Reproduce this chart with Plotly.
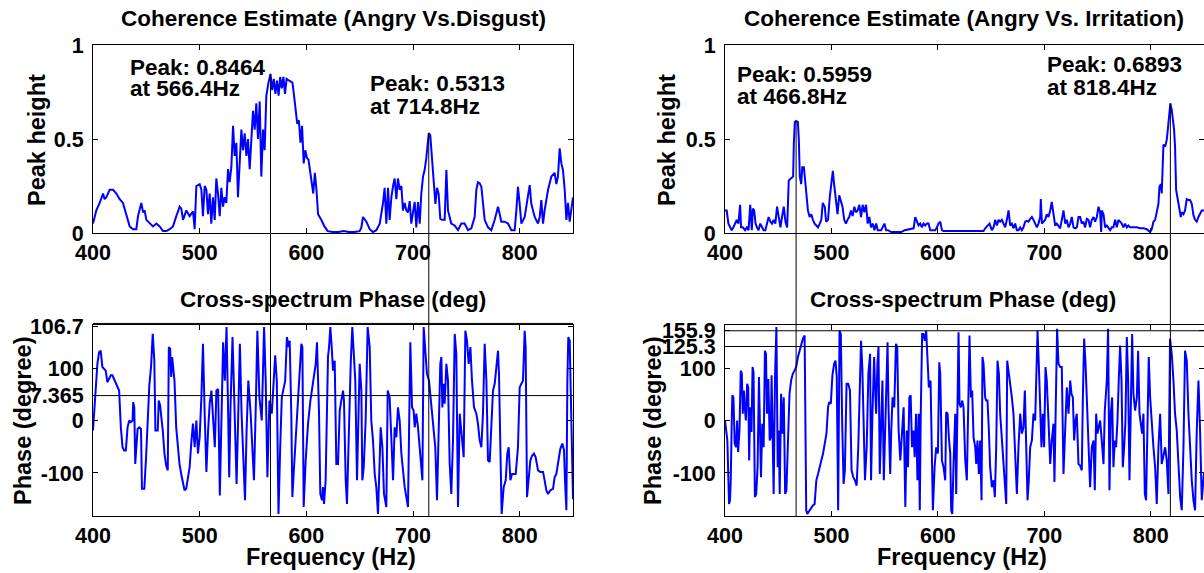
import plotly.graph_objects as go

# ---------------- data ----------------
# Top-left: coherence Angry vs Disgust
coh_dis_freq = [400, 403.1, 406.3, 409.4, 410.9, 412.5, 415.6, 418.8, 421.9, 425, 428.1, 431.3, 434.4, 437.5, 440.6,
                442.2, 445.3, 446.9, 448.4, 450, 453.1, 456.3, 459.4, 462.5, 465.6, 468.8, 471.9, 475, 478.1, 481.3,
                482.8, 484.4, 487.5, 490.6, 493.8, 495.3, 496.9, 500, 501.6, 503.1, 504.7, 506.3, 507.8, 509.4, 510.9,
                512.5, 514.1, 515.6, 517.2, 518.8, 520.3, 521.9, 523.4, 525, 526.6, 528.1, 529.7, 531.3, 532.8, 534.4,
                535.9, 537.5, 539.1, 540.6, 542.2, 543.8, 545.3, 546.9, 548.4, 550, 551.6, 553.1, 554.7, 556.3, 557.8,
                559.4, 560.9, 562.5, 564.5, 566.4, 568, 569.5, 571, 572.5, 574, 575.5, 577, 578.5, 580, 581.5, 584,
                587, 588.5, 590, 591.5, 593, 594.5, 596, 597.5, 599, 600.5, 602, 603.5, 605, 606.5, 608, 609.5, 611,
                614, 617, 620, 625, 630, 635, 640, 645, 650, 651.6, 653.1, 656.3, 659.4, 662.5, 665.6, 668.8, 671.9,
                673.4, 675, 676.6, 678.1, 679.7, 681.3, 682.8, 684.4, 685.9, 687.5, 689.1, 690.6, 692.2, 693.8, 695.3,
                696.9, 698.4, 700, 701.6, 703.1, 704.7, 706.3, 707.8, 709.4, 710.9, 712.5, 714.8, 716.2, 717.8, 719.4,
                721, 722.5, 724, 725.6, 727.2, 729.7, 731.3, 732.8, 734.4, 735.9, 739, 742.2, 745.3, 748.4, 751.6,
                754.7, 757.8, 759.4, 760.9, 762.5, 764.1, 767.2, 770.3, 773.4, 776.6, 779.7, 781.3, 782.8, 785.9,
                789.1, 792.2, 795.3, 796.9, 798.4, 800, 801.6, 804.7, 807.8, 809.4, 810.9, 814.1, 817.2, 818.8, 820.3,
                821.9, 823.4, 826.6, 829.7, 832.8, 834.4, 835.9, 837.5, 839.1, 840.6, 842.2, 843.8, 845.3, 846.9,
                848.4, 850]
coh_dis_val = [.05, .12, .16, .21, .18, .19, .23, .23, .21, .18, .16, .09, .035, .02, .02,
               .09, .16, .11, .12, .07, .05, .035, .05, .035, .01, .01, .02, .035, .09, .14,
               .13, .07, .12, .09, .115, .02, .25, .26, .23, .09, .25, .23, .10, .21, .05,
               .19, .07, .29, .21, .09, .24, .14, .19, .16, .34, .27, .35, .57, .41, .48,
               .19, .42, .55, .44, .53, .41, .50, .34, .50, .65, .55, .69, .50, .70, .30,
               .55, .44, .73, .80, .8464, .76, .82, .74, .81, .73, .83, .77, .83, .74, .82, .81,
               .80, .73, .65, .58, .60, .48, .57, .37, .44, .40, .39, .34, .27, .21, .32, .23, .10,
               .07, .035, .01, .005, .005, .01, .005, .005, .01, .03, .085, .06, .02, .005, .015, .05, .16,
               .24, .05, .24, .07, .19, .25, .29, .18, .29, .23, .25, .12, .16, .12, .11,
               .17, .05, .11, .165, .03, .165, .05, .21, .30, .335, .40, .5313, .52, .40, .245,
               .155, .24, .21, .075, .07, .07, .335, .12, .075, .05, .04, .015, .05, .05, .015,
               .025, .085, .23, .27, .265, .245, .07, .03, .015, .07, .14, .10, .06, .06,
               .05, .015, .015, .12, .245, .155, .05, .085, .19, .255, .155, .085, .05, .085, .175,
               .05, .12, .23, .30, .32, .26, .30, .45, .37, .335, .23, .07, .16, .06,
               .12, .19]

# Bottom-left: cross-spectrum phase Angry vs Disgust
ph_dis_freq = [400, 400.9, 402.5, 404.1, 405.7, 407.2, 408.8, 410.4, 411.9, 413.5, 415.1, 416.7, 418.2, 419.8, 421.4,
               423, 424.5, 426.1, 427.7, 429.2, 430.8, 432.4, 434, 435.5, 437.1, 437.7, 438.7, 439.6, 440.9, 441.8,
               443.4, 445, 445.9, 448.1, 449.7, 451.3, 452.8, 454.4, 456, 457.5, 458.5, 460.7, 461.6, 462.9, 463.8,
               465.4, 467, 468.6, 470.1, 471.1, 472.3, 473.3, 474.2, 475.5, 476.4, 478, 479.6, 481.1, 482.7, 484.3,
               485.8, 487.4, 489, 490.6, 492.1, 493.7, 495.3, 496.9, 498.4, 500, 501.6, 503.1, 504.7, 506.3, 507.9,
               509.4, 511, 512.6, 514.2, 515.7, 517.3, 518.9, 520.4, 522, 523.6, 525.2, 526.7, 527.7, 528.9, 530.8,
               532.4, 534.6, 536.2, 537.7, 539.3, 542.5, 544, 545.6, 547.8, 550.9, 552.8, 554.1, 556, 558.2, 560.4,
               561.9, 563.5, 565.4, 567.6, 570.8, 572.3, 573.9, 575.5, 577, 580.2, 581.8, 583.3, 584.4, 585.9, 586.9,
               588.1, 590, 592.2, 593.8, 595.3, 596.3, 597.5, 599.4, 601.6, 603.8, 606.3, 608.8, 610, 611.9, 613.1,
               614.7, 615.6, 616.6, 618.1, 619.4, 620.3, 621.3, 622.5, 623.8, 625, 626.6, 628.1, 629.7, 631.3, 632.8,
               634.4, 635.3, 636.9, 638.1, 640, 641.6, 643.1, 644.4, 645.9, 647.5, 648.8, 650, 651.6, 652.5, 653.8,
               655.6, 657.5, 659.4, 660.9, 662.5, 664.1, 665.6, 667.2, 668.8, 669.7, 671.3, 672.8, 675, 676.3, 678.1,
               679.7, 681.3, 682.8, 684.4, 685.9, 687.5, 689.1, 692.2, 695.3, 696.9, 697.5, 699.1, 700.6, 701.6, 703.1,
               704.7, 707.2, 708.8, 710, 711.3, 713.1, 715, 717.2, 719.4, 720.9, 722.5, 724.4, 725.6, 726.6, 727.5,
               728.8, 729.7, 731.3, 732.8, 734.4, 735.9, 737.5, 739.1, 740.6, 742.2, 743.8, 745.3, 747.5, 749.1, 750.6,
               752.2, 753.8, 755.3, 757.2, 759.4, 760.9, 762.5, 764.1, 765.6, 767.2, 768.8, 770.3, 771.9, 773.4, 775,
               776.6, 778.1, 779.7, 780.6, 782.2, 783.1, 785, 786.9, 788.4, 789.7, 791.3, 792.8, 794.4, 796.3, 798.4,
               800, 801.6, 803.1, 804.7, 805.6, 806.9, 808.4, 810, 811.6, 813.4, 815, 817.2, 819.4, 821.9, 823.4,
               825, 826.6, 828.8, 831.3, 832.8, 834.4, 835.9, 838.1, 840, 841.6, 842.5, 843.8, 844.7, 845.6, 846.9,
               848.4, 849.4, 850]
ph_dis_val = [-19, 13, 57, 108, 130, 133, 102, 98, 95, 73, 79, 86, 86, 79, 73,
              63, 57, -13, -51, -57, -57, -13, 0, -3, 0, 35, 25, -83, -32, -16,
              -13, -16, -130, -130, -73, 13, 67, 102, 165, 114, -19, -19, 38, 29, 13,
              -19, -63, -86, -95, 140, 137, 83, 121, 89, 76, -13, -57, -83, -102, -121,
              -133, -130, -108, -89, -44, -6, -51, 0, -63, -32, 44, 146, 13, -98, -19,
              32, 57, 0, -51, 57, 60, -143, 25, 149, 76, 178, 13, -108, 25, 159,
              44, -121, 13, 146, 13, -152, -19, 76, 13, -114, 44, 171, 44, 0, 178,
              76, -108, 38, 13, 124, 76, -178, -51, 44, 76, 159, 140, 152, 13, -146,
              -102, -38, 25, 89, 146, 140, -165, -76, -6, 38, 76, 108, 149, 13, -140,
              -152, -127, -159, -114, 44, 121, 140, 178, 140, 95, 114, -83, -83, 19, 38,
              57, 38, -114, -159, 0, 108, 178, 140, 76, -114, 44, 108, 57, -114, -89,
              0, 178, 140, 0, -38, -102, -127, -178, -83, -13, -51, -140, -165, 57, 44,
              -51, -114, -13, -32, 25, 0, -63, -127, -165, 76, 149, 25, 19, -13, 13,
              -13, -83, -114, 178, 140, 89, 76, 25, -25, -51, -152, 13, 108, 121, 25,
              70, 32, 108, 76, -83, -140, -38, 165, 127, -165, 13, -19, -70, 171, 152,
              108, 140, 76, 25, 13, -6, -38, -51, 13, 146, 76, -76, -79, 0, 57,
              70, 95, 133, 89, -51, -178, -127, -114, -63, -51, -114, -102, -102, -102, -51,
              63, 70, 76, 171, 140, -146, -114, -76, -67, -63, -70, -95, -98, -98, -114,
              -133, -140, -133, -130, -108, -102, -83, -54, -44, -57, -114, -171, 76, 159, 152,
              13, -140, -150]

# Top-right: coherence Angry vs Irritation
coh_irr_freq = [400, 401.6, 403.2, 404.7, 406.3, 407.9, 409.5, 411, 412.6, 414.2, 415.1, 416.7, 418.9, 420.5, 422.1,
                423.7, 425.2, 426.2, 427.4, 428.7, 430, 431.5, 433.1, 434.7, 436.3, 437.9, 439.4, 441, 442.6, 444.2,
                445.7, 447.3, 448.9, 450.5, 452.1, 453.6, 455.2, 456.8, 458.4, 459.9, 462.1, 464, 464.7, 465.6, 466.8,
                468.5, 469.4, 470.3, 471.6, 472.6, 474.1, 475.1, 476.3, 477.9, 479.5, 481.1, 482.6, 484.2, 485.8, 487.4,
                489, 490.5, 491.8, 493.7, 495, 496.8, 498.4, 500, 501.3, 502.5, 504.1, 505.7, 507.3, 508.8, 510.4,
                512, 513.6, 515.1, 516.7, 518.3, 519.9, 521.5, 523, 524.6, 526.2, 527.8, 529.3, 530.9, 532.5, 534.1,
                535.6, 537.2, 538.8, 540.4, 542, 543.5, 546.7, 549.8, 551.4, 553, 556.2, 559.3, 562.5, 565.6, 568.8,
                571.9, 574, 577.2, 578.7, 580.3, 581.8, 583.4, 585, 586.5, 588.1, 589.7, 591.2, 592.8, 594.4, 597.5,
                599.1, 600.6, 602.2, 603.8, 605.3, 615, 625, 635, 642.9, 644.4, 646.6, 648.5, 650.7, 652.3, 653.8,
                655.4, 657, 658.5, 660.1, 661.7, 663.2, 664.8, 666.4, 667.9, 669.5, 671, 672.6, 674.2, 675.7, 677.3,
                678.9, 680.4, 682, 683.6, 685.1, 686.7, 688.3, 689.8, 691.4, 693, 694.5, 696.1, 696.7, 697.7, 699.2,
                700.8, 702.3, 703.9, 705.5, 707, 708.6, 710.2, 711.7, 713.3, 714.9, 716.4, 718, 719.6, 721.1, 722.7,
                724.3, 725.8, 727.4, 729, 730.5, 732.1, 733.6, 735.2, 736.8, 738.3, 739.9, 741.5, 743, 744.6, 746.2,
                747.7, 749.3, 750.9, 752.4, 753.4, 754, 755.6, 757.1, 758.7, 760.3, 761.8, 763.4, 764.9, 766.5, 768.1,
                769.6, 771.2, 772.8, 774.3, 775.9, 777.5, 779, 780.6, 783.7, 786.9, 790, 793.1, 796.2, 799.4, 800.9,
                802.5, 804.1, 805.6, 807.2, 808.1, 809.4, 810.3, 811.3, 811.9, 813.5, 815, 816, 816.9, 818.4, 819.7,
                820.7, 821.9, 822.8, 823.8, 825, 826.6, 828.2, 829.1, 830.7, 832.2, 833.8, 835.4, 836.9, 838.5, 840.1,
                841.6, 843.2, 844.8, 846.3, 847.9, 849.4, 850]
coh_irr_val = [.12, .12, .05, .03, .015, .03, .05, .07, .05, .15, .03, .03, .015, .03, .015,
               .15, .015, .13, .12, .05, .03, .015, .05, .03, .015, .015, .05, .085, .06, .05,
               .07, .05, .14, .085, .03, .085, .14, .06, .03, .28, .29, .30, .48, .59, .5959,
               .59, .49, .30, .26, .35, .35, .28, .19, .12, .085, .10, .07, .05, .04, .03,
               .05, .07, .16, .14, .06, .07, .19, .28, .33, .26, .17, .10, .20, .17, .14,
               .07, .05, .07, .085, .12, .09, .14, .11, .12, .15, .085, .15, .11, .15, .05,
               .085, .03, .05, .015, .05, .015, .015, .05, .015, .015, .005, .005, .005, .005, .015,
               .02, .02, .025, .085, .06, .04, .05, .03, .05, .04, .05, .05, .015, .015, .015,
               .03, .05, .06, .015, .01, .01, .01, .01, .01, .025, .04, .05, .015, .03, .07,
               .04, .07, .06, .07, .05, .03, .07, .12, .04, .05, .025, .05, .015, .015, .03,
               .015, .03, .06, .065, .06, .075, .085, .07, .05, .03, .05, .085, .18, .05, .06,
               .07, .10, .085, .12, .165, .10, .04, .05, .04, .025, .07, .12, .05, .07, .03,
               .05, .085, .03, .025, .03, .085, .085, .05, .06, .03, .075, .07, .03, .07, .085,
               .06, .085, .14, .11, .005, .12, .10, .03, .04, .025, .015, .03, .03, .07, .03,
               .07, .06, .05, .03, .05, .03, .04, .03, .03, .03, .025, .025, .02, .005, .02,
               .06, .07, .12, .155, .245, .26, .21, .335, .47, .46, .495, .55, .62, .6893, .655,
               .61, .55, .46, .23, .19, .14, .085, .11, .10, .12, .18, .175, .175, .155, .095,
               .07, .06, .085, .10, .12, .12, .12]

# Bottom-right: cross-spectrum phase Angry vs Irritation
ph_irr_freq = [400, 401.3, 402.2, 403.2, 403.8, 404.7, 405.4, 406.3, 406.9, 407.9, 409.1, 410.4, 411.4, 412.3, 413.6,
               414.8, 415.8, 416.7, 417.7, 418.6, 419.6, 420.8, 421.8, 422.7, 423.7, 424.9, 425.9, 426.8, 428.1, 429.3,
               430.6, 431.9, 432.8, 433.8, 435, 436.3, 437.5, 438.5, 439.4, 440.7, 442, 442.9, 443.8, 444.8, 445.7,
               447, 448.3, 449.5, 450.5, 451.4, 452.7, 453.9, 455.2, 456.5, 457.7, 459, 460.6, 462.1, 463.7, 465.3,
               466.9, 468.5, 470, 471.6, 473.2, 474.8, 475.4, 476.3, 477.3, 479.5, 481.1, 482.6, 484.2, 485.8, 487.4,
               489, 490.5, 492.1, 493.7, 495.3, 496.8, 497.8, 499.4, 500.9, 502.5, 503.8, 505, 506.3, 507.6, 508.8,
               510.1, 511.4, 512.6, 514.2, 515.8, 517.4, 518.9, 520.5, 522.1, 523.7, 525.2, 526.8, 527.8, 529, 530.3,
               531.5, 533.1, 534.7, 536.3, 537.2, 538.5, 540.1, 541, 542, 543.2, 544.2, 545.4, 546.7, 547.9, 549.2,
               550.5, 551.7, 552.7, 553.6, 555.2, 556.2, 557.4, 559, 560.6, 561.8, 563.1, 564.7, 566.2, 567.8, 569.4,
               570.7, 571.9, 573.2, 574.4, 575.7, 577, 578.2, 579.5, 580.8, 582, 583, 583.9, 585.2, 586.4, 587.7,
               589, 590.2, 591.5, 593.1, 594.4, 595.3, 596.9, 598.4, 600, 601.3, 602.2, 603.8, 605.3, 606.9, 607.8,
               609.1, 610.3, 611.6, 612.5, 613.5, 614.7, 616.3, 617.2, 618.2, 619.4, 620.3, 621.6, 622.8, 624.1, 625.7,
               627.2, 628.8, 629.7, 631, 632.2, 633.5, 635.1, 636, 637.2, 638.5, 639.7, 641, 641.9, 642.9, 644.4,
               645.4, 646.6, 647.9, 649.1, 650.7, 652.3, 653.5, 654.8, 656, 657.3, 658.5, 659.8, 661, 662.6, 664.2,
               665.1, 666.4, 667.9, 669.5, 671, 672.6, 674.2, 675.7, 677.3, 678.9, 680.4, 681.7, 682.9, 684.2, 685.4,
               686.7, 688.3, 689.8, 691.4, 692.6, 693.6, 694.8, 696.1, 697.3, 698.6, 699.8, 701.1, 702.3, 703.9, 705.5,
               707, 708.6, 709.5, 710.8, 712, 713.3, 714.9, 716.4, 718, 719.2, 720.2, 721.1, 722.7, 724.3, 725.5,
               726.8, 728, 729.3, 730.5, 732.1, 733.6, 735.2, 736.2, 737.4, 738.7, 739.9, 741.5, 743, 744.6, 746.2,
               747.4, 748.7, 749.9, 751.2, 752.4, 753.7, 755.6, 756.8, 758.7, 759.9, 761.2, 762.4, 763.7, 764.9, 766.2,
               767.4, 768.7, 769.9, 771.2, 772.5, 773.7, 775, 776.2, 777.5, 778.7, 780, 781.2, 782.5, 783.7, 785.3,
               786.9, 788.1, 789.4, 790.6, 791.9, 793.1, 794.4, 795.6, 796.9, 798.1, 799.4, 800.9, 802.5, 804.1, 805.6,
               807.2, 808.8, 810.3, 811.9, 813.5, 815, 816.6, 818.1, 819.7, 821.3, 822.8, 824.4, 826, 827.6, 829.1,
               830.7, 832.2, 833.8, 835.4, 836.9, 838.5, 840.1, 841.6, 843.2, 844.8, 846.3, 847.9, 849.4, 850]
ph_irr_val = [0, -19, -38, -114, -159, -152, -114, -6, 48, 44, -44, -51, 0, -60, -19,
              95, 89, 13, 57, 25, 0, 70, 63, -76, 25, -22, 102, 92, -146, -140,
              -89, 83, 13, -108, -6, -51, 133, 127, 13, 79, -38, -32, 86, -38, -140,
              83, 178, -89, -19, -140, 51, -25, 44, -140, -133, -51, 51, 76, 89, 95,
              102, 121, 133, 143, 156, 162, -6, -171, -178, -171, -165, -162, -159, -114, -102,
              -89, -76, -63, -44, -25, 25, 35, 32, 86, 108, 114, 83, -171, 171, 165,
              -6, -121, -95, 70, 70, 57, -95, -108, -114, -124, -51, 102, 152, 102, 13,
              -114, -51, 89, 127, -114, 13, 121, 63, 13, 108, 140, -102, -13, 76, -114,
              -13, 76, 149, 25, -102, -19, 44, 25, 146, 140, -19, -76, -22, 25, -165,
              -19, -89, 44, 48, -51, -19, -70, 13, -114, 13, -171, 13, 165, 165, 152,
              171, 121, 63, 76, -127, -171, -89, -51, -63, 111, 89, -76, -89, -114, 16,
              13, -32, -63, -171, -178, -83, 13, -140, 0, 168, 32, 25, 38, 25, -76,
              -114, 57, 162, 44, 57, -32, -51, -83, -38, -102, -38, -152, 121, 108, 44,
              38, 38, -19, -89, -127, -114, -146, -51, 114, 89, 13, -25, -63, -114, -159,
              114, 95, 76, 44, 13, -51, -140, -51, 13, -25, -13, 57, -51, -152, -114,
              -51, -38, 13, 0, 76, 171, 108, 19, -51, 13, -51, 102, 76, 0, -83,
              -38, -6, -117, 13, 175, 108, 102, 102, -102, -38, 25, 63, 13, 76, 51,
              44, -38, 0, 13, -83, -86, -95, 44, 156, 108, 44, -76, -127, -51, -38,
              -133, 13, -25, -13, 0, -32, -83, 19, 76, 175, -133, 13, 44, -89, -38,
              -51, 0, 76, 143, 76, -89, -51, 0, 159, 76, -114, 25, 165, 51, 19,
              44, 133, 13, -6, -25, 13, -140, -152, 13, 121, 44, -13, -51, -89, -159,
              -51, 13, -83, -63, -51, -76, -140, 156, 127, 76, 13, -19, -83, -146, -171,
              -51, 133, 114, 13, -51, -114, -152, -171, -19, 76, -19, -152, -114, -100]

# peaks (frequency, height) and their labels
peaks_dis = [(566.4, 0.8464), (714.8, 0.5313)]
peaks_irr = [(466.8, 0.5959), (818.4, 0.6893)]

# phase axis tick values and labels (marker lines drawn at some of them)
ph_dis_ticks = [-100, 0, 47.5, 100, 180]
ph_dis_ticktext = ["-100", "0", "7.365", "100", "106.7"]
ph_irr_ticks = [-100, 0, 100, 141, 171]
ph_irr_ticktext = ["-100", "0", "100", "125.3", "155.9"]
coh_ticks = [0, 0.5, 1]
coh_ticktext = ["0", "0.5", "1"]
freq_ticks = [400, 500, 600, 700, 800]
freq_ticktext = ["400", "500", "600", "700", "800"]

# ---------------- layout geometry ----------------
W, H = 1204, 573
FONT = "Liberation Sans, Arial, sans-serif"
def px(p):
    return p / W
def py(p):
    return 1 - p / H

L_X = [px(93), px(573)]
R_X = [px(725), 1.0]
TOP_Y = [py(233), py(45)]
BOT_Y = [py(516), py(325)]
PH_RANGE = [-182, 182]

fig = go.Figure()
blue = dict(color="#0000ff", width=2)
fig.add_trace(go.Scatter(x=coh_dis_freq, y=coh_dis_val, mode="lines", line=blue, xaxis="x", yaxis="y"))
fig.add_trace(go.Scatter(x=ph_dis_freq, y=ph_dis_val, mode="lines", line=blue, xaxis="x2", yaxis="y2"))
fig.add_trace(go.Scatter(x=coh_irr_freq, y=coh_irr_val, mode="lines", line=blue, xaxis="x3", yaxis="y3"))
fig.add_trace(go.Scatter(x=ph_irr_freq, y=ph_irr_val, mode="lines", line=blue, xaxis="x4", yaxis="y4"))

tickfont = dict(family=FONT, size=21.5, color="black", weight="bold")
axis_common = dict(showline=True, linecolor="black", linewidth=1, mirror="ticks", ticks="inside",
                   ticklen=5, tickwidth=1, tickcolor="black", showgrid=False, zeroline=False,
                   tickfont=tickfont, fixedrange=True, automargin=False)

def xax(domain, anchor):
    return dict(domain=domain, anchor=anchor, range=[400, 850], tickvals=freq_ticks,
                ticktext=freq_ticktext, **axis_common)

def yax(domain, anchor, rng, tv, tt):
    return dict(domain=domain, anchor=anchor, range=rng, tickvals=tv, ticktext=tt,
                ticklabelstandoff=4, **axis_common)

fig.update_layout(
    width=W, height=H, margin=dict(l=0, r=0, t=0, b=0, pad=0),
    paper_bgcolor="white", plot_bgcolor="white", showlegend=False,
    font=dict(family=FONT, size=22, color="black", weight="bold"),
    xaxis=xax(L_X, "y"), yaxis=yax(TOP_Y, "x", [0, 1], coh_ticks, coh_ticktext),
    xaxis2=xax(L_X, "y2"), yaxis2=yax(BOT_Y, "x2", PH_RANGE, ph_dis_ticks, ph_dis_ticktext),
    xaxis3=xax(R_X, "y3"), yaxis3=yax(TOP_Y, "x3", [0, 1], coh_ticks, coh_ticktext),
    xaxis4=xax(R_X, "y4"), yaxis4=yax(BOT_Y, "x4", PH_RANGE, ph_irr_ticks, ph_irr_ticktext),
)

def top_paper(v):
    return TOP_Y[0] + v * (TOP_Y[1] - TOP_Y[0])

def bot_paper(v):
    return BOT_Y[0] + (v - PH_RANGE[0]) / (PH_RANGE[1] - PH_RANGE[0]) * (BOT_Y[1] - BOT_Y[0])

black = dict(color="black", width=1)
shapes = []
for (f, h) in peaks_dis:
    shapes.append(dict(type="line", xref="x", yref="paper", x0=f, x1=f, y0=BOT_Y[0], y1=top_paper(h), line=black))
for (f, h) in peaks_irr:
    shapes.append(dict(type="line", xref="x3", yref="paper", x0=f, x1=f, y0=BOT_Y[0], y1=top_paper(h), line=black))
# horizontal marker lines in the phase panels
shapes.append(dict(type="line", xref="x2", yref="paper", x0=400, x1=850,
                   y0=bot_paper(ph_dis_ticks[4] + 5), y1=bot_paper(ph_dis_ticks[4] + 5), line=black))
shapes.append(dict(type="line", xref="x2", yref="y2", x0=400, x1=850,
                   y0=ph_dis_ticks[2], y1=ph_dis_ticks[2], line=black))
shapes.append(dict(type="line", xref="x4", yref="y4", x0=400, x1=850,
                   y0=ph_irr_ticks[3], y1=ph_irr_ticks[3], line=black))
shapes.append(dict(type="line", xref="x4", yref="y4", x0=400, x1=850,
                   y0=ph_irr_ticks[4], y1=ph_irr_ticks[4], line=black))
fig.update_layout(shapes=shapes)

anns = []
def ann(text, x, y, size, xanchor="center", angle=0):
    anns.append(dict(text=text, x=px(x), y=py(y), xref="paper", yref="paper", xanchor=xanchor,
                     yanchor="middle", showarrow=False, textangle=angle,
                     font=dict(family=FONT, size=size, color="black", weight="bold")))

ann("Coherence Estimate (Angry Vs.Disgust)", 333, 18, 22.5)
ann("Coherence Estimate (Angry Vs. Irritation)", 964, 18, 22.5)
ann("Cross-spectrum Phase (deg)", 333, 299, 22.5)
ann("Cross-spectrum Phase (deg)", 963, 299, 22.5)
ann("Frequency (Hz)", 331, 557, 23.5)
ann("Frequency (Hz)", 962, 557, 23.5)
ann("Peak height", 37, 140, 23.5, angle=-90)
ann("Peak height", 667, 140, 23.5, angle=-90)
ann("Phase (degree)", 23, 421, 23.5, angle=-90)
ann("Phase (degree)", 653, 421, 23.5, angle=-90)

peak_text_pos = [(128, 67, 89), (368, 84, 106), (735, 75, 97), (1045, 64, 88)]
for (f, h), (x, y1, y2) in zip(peaks_dis + peaks_irr, peak_text_pos):
    ann(f"Peak: {h:.4f}", x, y1, 22.5, xanchor="left")
    ann(f"at {f:.1f}Hz", x, y2, 22.5, xanchor="left")

fig.update_layout(annotations=anns)
fig.write_html("out.html")
